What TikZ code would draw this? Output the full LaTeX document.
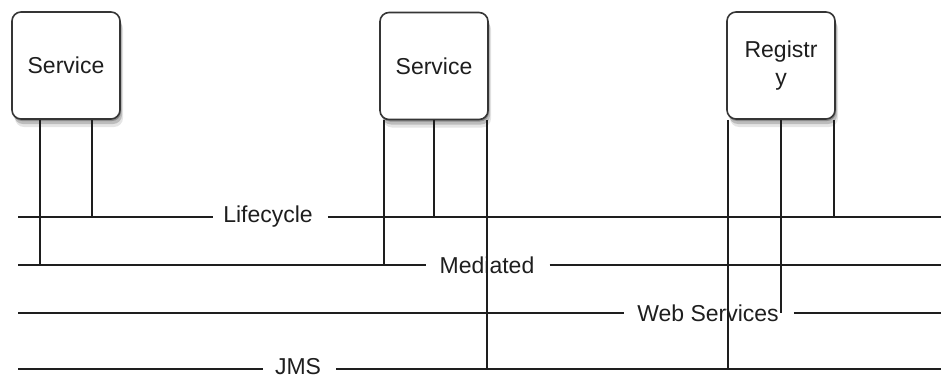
\documentclass[tikz,border=0pt]{standalone}
\usepackage{fontspec}
\setmainfont{Liberation Sans}
\usetikzlibrary{shadows}
\definecolor{ink}{HTML}{1E1E1E}
\begin{document}
\begin{tikzpicture}[x=1pt,y=-1pt,
  svcbox/.style={draw=ink!90,line width=1.6pt,rounded corners=9pt,fill=white,
    minimum width=108pt,minimum height=107pt,inner sep=0pt,align=center,
    font=\fontsize{23}{28}\selectfont,text=ink,
    drop shadow={shadow xshift=1pt,shadow yshift=-2pt,opacity=.25,fill=black},
    drop shadow={shadow xshift=2pt,shadow yshift=-5pt,opacity=.18,fill=black},
    drop shadow={shadow xshift=3pt,shadow yshift=-8pt,opacity=.10,fill=black}},
  buslabel/.style={inner sep=0pt,font=\fontsize{23}{26}\selectfont,text=ink},
  wire/.style={draw=ink,line width=1.3pt}]
\useasboundingbox (0,0) rectangle (941,378);

% service / registry boxes
\node[svcbox] (s1) at (66,65.5) {Service};
\node[svcbox] (s2) at (434,66) {Service};
\node[svcbox] (reg) at (781,65.5) {Registr\\y};

% bus end points
\coordinate (lcL) at (18,217);  \coordinate (lcR) at (941,217);
\coordinate (mdL) at (18,265);  \coordinate (mdR) at (941,265);
\coordinate (wsL) at (18,313);  \coordinate (wsR) at (941,313);
\coordinate (jmL) at (18,369);  \coordinate (jmR) at (941,369);

% bus labels
\node[buslabel] (lc) at (268,217) {Lifecycle};
\node[buslabel] (md) at (487,265) {Mediated};
\node[buslabel] (ws) at (708,313) {Web Services};
\node[buslabel] (jm) at (298,367) {JMS};

% bus lines
\draw[wire] (lcL) -- ([xshift=-10pt]lc.west);
\draw[wire] ([xshift=15pt]lc.east) -- (lcR);
\draw[wire] (mdL) -- ([xshift=-13pt]md.west);
\draw[wire] ([xshift=15pt]md.east) -- (mdR);
\draw[wire] (wsL) -- ([xshift=-13pt]ws.west);
\draw[wire] ([xshift=15pt]ws.east) -- (wsR);
\draw[wire] (jmL) -- ([xshift=-12pt,yshift=-2pt]jm.west);
\draw[wire] ([xshift=15pt,yshift=-2pt]jm.east) -- (jmR);

% junctions
\coordinate (j1) at (40,265);
\coordinate (j2) at (92,217);
\coordinate (j3) at (384,265);
\coordinate (j4) at (434,217);
\coordinate (j5) at (487,369);
\coordinate (j6) at (728,369);
\coordinate (j7) at (781,313);
\coordinate (j8) at (834,217);

% drops from boxes to buses
\draw[wire] (s1.south -| j1) -- (j1);
\draw[wire] (s1.south -| j2) -- (j2);
\draw[wire] (s2.south -| j3) -- (j3);
\draw[wire] (s2.south -| j4) -- (j4);
\draw[wire] (s2.south -| j5) -- (j5);
\draw[wire] (reg.south -| j6) -- (j6);
\draw[wire] (reg.south -| j7) -- (j7);
\draw[wire] (reg.south -| j8) -- (j8);
\end{tikzpicture}
\end{document}
